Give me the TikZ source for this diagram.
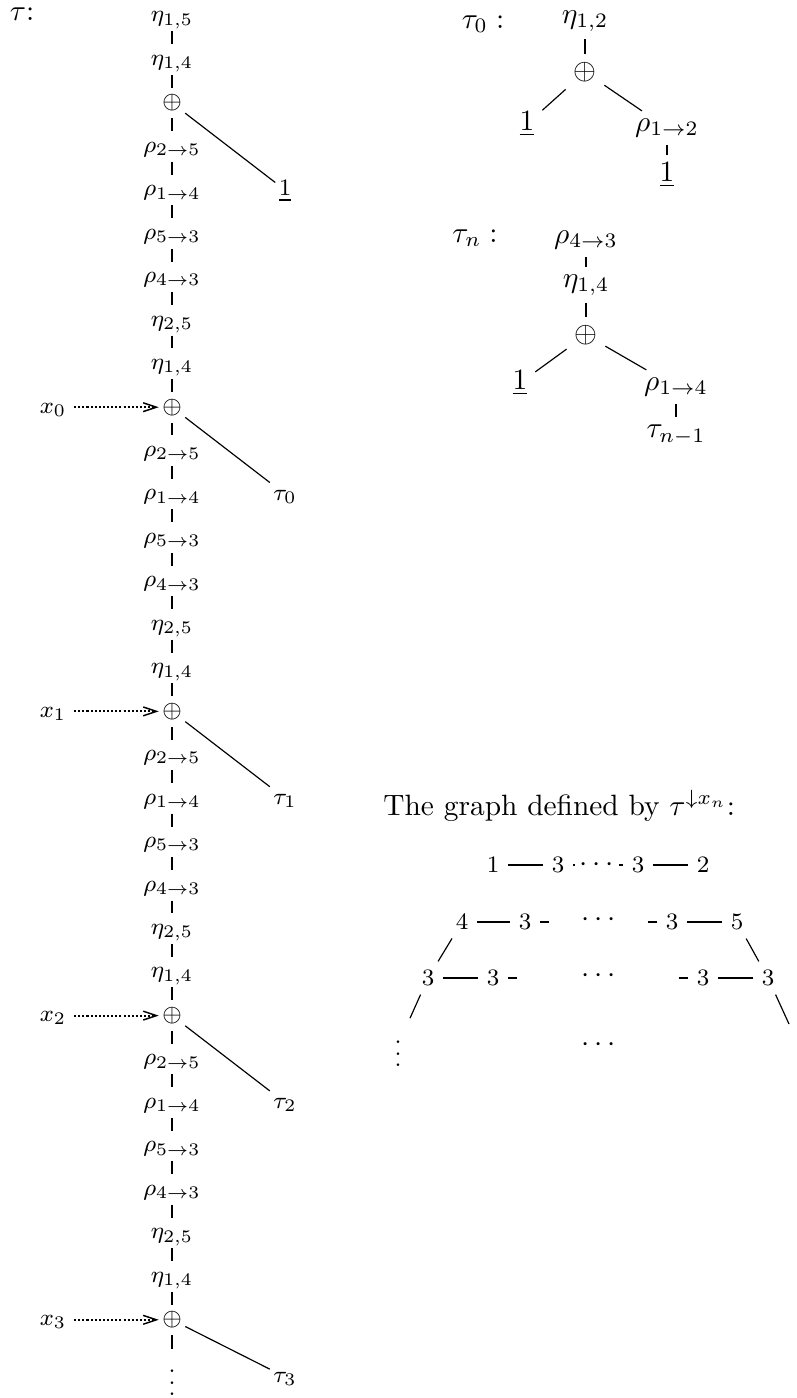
\documentclass[tikz,border=0pt]{standalone}
\usetikzlibrary{arrows.meta,positioning}
\begin{document}
\begin{tikzpicture}[x=0.34pt, y=-0.34pt,
    lbl/.style={font=\footnotesize, inner sep=1pt, text height=6pt, text depth=2pt},
    tnode/.style={inner sep=2.5pt},
    gnode/.style={font=\footnotesize, inner sep=2.7pt},
    stem/.style={thick},
    link/.style={semithick},
    feed/.style={line width=0.7pt, dash pattern=on 0.7pt off 0.7pt, shorten <=1.5pt,
        -{Straight Barb[length=4.5pt,width=3pt,line width=0.5pt]}}]
    \useasboundingbox (0,0) rectangle (796,1398);

    % 1. Cay tau ben trai
    \node at (22,14) {$\tau$:};
    \node[lbl] (top) at (172,16) {$\eta_{1,5}$};
    \node[lbl] (f0) at (172,59.5) {$\eta_{1,4}$};
    \node[lbl] (p0) at (172,103) {$\oplus$};
    \node[lbl] (t0) at (285,190) {$\underline{1}$};
    \draw[stem] (top) -- (f0) -- (p0);
    \draw (p0) -- (t0);
    \foreach \j/\dy [evaluate=\j as \y using 103+304.2*\j,
                     evaluate=\j as \i using int(\j-1)] in {1/87,2/87,3/87,4/57} {
        \node[lbl] (a\j) at (172,\y-260.8) {$\rho_{2\to5}$};
        \node[lbl] (b\j) at (172,\y-217.3) {$\rho_{1\to4}$};
        \node[lbl] (c\j) at (172,\y-173.8) {$\rho_{5\to3}$};
        \node[lbl] (d\j) at (172,\y-130.4) {$\rho_{4\to3}$};
        \node[lbl] (e\j) at (172,\y-86.9) {$\eta_{2,5}$};
        \node[lbl] (f\j) at (172,\y-43.5) {$\eta_{1,4}$};
        \node[lbl] (p\j) at (172,\y) {$\oplus$};
        \node[lbl] (t\j) at (285,\y+\dy) {$\tau_{\i}$};
        \node[lbl] (x\j) at (53,\y) {$x_{\i}$};
        \draw[stem] (p\i) -- (a\j) -- (b\j) -- (c\j) -- (d\j) -- (e\j) -- (f\j) -- (p\j);
        \draw (p\j) -- (t\j);
        \draw[feed] (x\j) -- (p\j);
    }
    \node[font=\footnotesize, inner sep=1pt] (vd) at (172,1374) {$\vdots$};
    \draw[stem] (p4) -- (vd);

    % 2. Cay tau_0
    \node at (483,24) {$\tau_0 :$};
    \node[tnode] (a12) at (585,21) {$\eta_{1,2}$};
    \node[tnode] (aplus) at (585,72) {$\oplus$};
    \node[tnode] (aone) at (527,124) {$\underline{1}$};
    \node[tnode] (arho) at (667,128) {$\rho_{1\to2}$};
    \node[tnode] (aend) at (667,175) {$\underline{1}$};
    \draw[stem] (a12) -- (aplus);
    \draw (aplus) -- (aone);
    \draw (aplus) -- (arho);
    \draw[stem] (arho) -- (aend);

    % 3. Cay tau_n
    \node at (475,238) {$\tau_n :$};
    \node[tnode] (b43) at (586,240) {$\rho_{4\to3}$};
    \node[tnode] (b14) at (586,285) {$\eta_{1,4}$};
    \node[tnode] (bplus) at (586,335) {$\oplus$};
    \node[tnode] (bone) at (520,383) {$\underline{1}$};
    \node[tnode] (brho) at (676,387) {$\rho_{1\to4}$};
    \node[tnode] (bprev) at (676,435) {$\tau_{n-1}$};
    \draw[stem] (b43) -- (b14) -- (bplus);
    \draw (bplus) -- (bone);
    \draw (bplus) -- (brho);
    \draw[stem] (brho) -- (bprev);

    % 4. Do thi xac dinh boi tau
    \node[anchor=west] (cap) at (373,806) {The graph defined by $\tau^{\downarrow x_n}$:};
    % hang 1
    \node[gnode] (g1) at (493,865) {1};
    \node[gnode] (g3a) at (558,865) {3};
    \node[inner sep=1.5pt] (gd) at (597,865) {$\cdots$};
    \node[gnode] (g3b) at (638,865) {3};
    \node[gnode] (g2) at (703,865) {2};
    \draw[link] (g1) -- (g3a) -- (gd) -- (g3b) -- (g2);
    % hang 2
    \node[gnode] (h4) at (462,922) {4};
    \node[gnode] (h3a) at (525,922) {3};
    \node[inner sep=0pt] (hd) at (599,920) {$\cdots$};
    \node[gnode] (h3b) at (672,922) {3};
    \node[gnode] (h5) at (737,922) {5};
    \coordinate[right=3.3pt of h3a] (h3ae);
    \coordinate[left=3.3pt of h3b] (h3bw);
    \draw[link] (h4) -- (h3a) -- (h3ae);
    \draw[link] (h3bw) -- (h3b) -- (h5);
    % hang 3
    \node[gnode] (k3a) at (428,978) {3};
    \node[gnode] (k3b) at (493,978) {3};
    \node[inner sep=0pt] (kd) at (599,976) {$\cdots$};
    \node[gnode] (k3c) at (703,978) {3};
    \node[gnode] (k3d) at (768,978) {3};
    \coordinate[right=3.3pt of k3b] (k3be);
    \coordinate[left=3.3pt of k3c] (k3cw);
    \draw[link] (k3a) -- (k3b) -- (k3be);
    \draw[link] (k3cw) -- (k3c) -- (k3d);
    % hang 4
    \node[gnode] (kv) at (398,1045) {$\vdots$};
    \node[inner sep=0pt] (ld) at (599,1045) {$\cdots$};
    \coordinate (kend) at (789,1024);
    \draw (h4) -- (k3a);
    \draw (h5) -- (k3d);
    \draw (k3a) -- (kv);
    \draw (k3d) -- (kend);
\end{tikzpicture}
\end{document}
